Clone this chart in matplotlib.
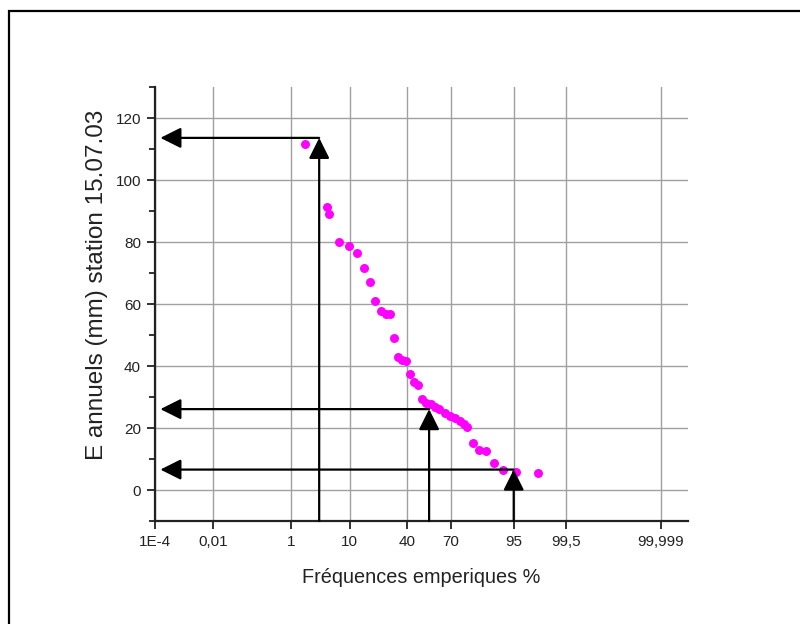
import numpy as np
import matplotlib
matplotlib.use('Agg')
import matplotlib.pyplot as plt
from matplotlib.patches import Rectangle
from matplotlib.ticker import MultipleLocator
from statistics import NormalDist

plt.rcParams['font.family'] = ['Liberation Sans', 'DejaVu Sans']

# Empirical frequencies (%) and annual values (mm).
freq = [1.89, 4.54, 5.01, 7.13, 9.78, 12.47, 15.2, 17.9, 20.4, 23.3, 26.1, 28.6,
        31.1, 33.6, 36.5, 39.2, 41.7, 44.5, 47.6, 50.0, 53.5, 56.4, 59.3, 62.3,
        66.1, 69.2, 72.3, 75.2, 77.5, 79.3, 82.1, 84.7, 87.4, 90.1, 92.7, 95.4, 98.1]
values = [111.5, 91.2, 89.0, 79.9, 78.6, 76.4, 71.5, 67.2, 61.1, 57.6, 56.7, 56.8,
          49.1, 42.9, 41.8, 41.6, 37.3, 34.8, 34.0, 29.5, 28.1, 27.7, 26.8, 26.0,
          24.9, 23.8, 23.1, 22.2, 21.2, 20.4, 15.2, 12.9, 12.6, 8.6, 6.6, 5.9, 5.6]

# Reading arrows (frequency %, value mm).
read_freq = [3.4, 55.4, 95.0]
read_vals = [113.6, 26.1, 6.6]
arrow_end_freq = 1.6e-4

xticks = [1e-4, 0.01, 1, 10, 40, 70, 95, 99.5, 99.999]
xtick_labels = ['1E-4', '0,01', '1', '10', '40', '70', '95', '99,5', '99,999']

_nd = NormalDist()
_inv = np.frompyfunc(lambda p: _nd.inv_cdf(p), 1, 1)
_cdf = np.frompyfunc(lambda z: _nd.cdf(z), 1, 1)


def probit(p):
    p = np.clip(np.asarray(p, dtype=float) / 100.0, 1e-12, 1 - 1e-12)
    return _inv(p).astype(float)


def unprobit(z):
    return _cdf(np.asarray(z, dtype=float)).astype(float) * 100.0


fig = plt.figure(figsize=(8, 6.24), dpi=100)
ax = fig.add_axes([0.19375, 0.165, 0.66625, 0.6955])
ax.set_xscale('function', functions=(probit, unprobit))
ax.set_xlim(1e-4, 99.9999)
ax.set_ylim(-10, 130)

ax.grid(True, color='#a0a0a0', lw=1.0)
ax.set_axisbelow(True)

ax.set_xticks(xticks)
ax.set_xticklabels(xtick_labels)
ax.xaxis.set_minor_locator(plt.NullLocator())
ax.yaxis.set_major_locator(MultipleLocator(20))
ax.yaxis.set_minor_locator(MultipleLocator(10))
ax.tick_params(axis='both', which='major', direction='out', length=6, width=1.3,
               pad=4, labelsize=11, colors='#222222')
ax.tick_params(axis='y', which='minor', direction='out', length=4, width=1.3,
               colors='#222222')

for side in ['top', 'right']:
    ax.spines[side].set_visible(False)
for side in ['left', 'bottom']:
    ax.spines[side].set_linewidth(1.6)
    ax.spines[side].set_color('#222222')

ax.scatter(freq, values, s=42, color='#ff00ff', zorder=3, linewidths=0)

arrow_style = dict(arrowstyle='-|>,head_length=0.9,head_width=0.45', color='black',
                   lw=1.6, shrinkA=0, shrinkB=0, mutation_scale=14)
for f, v in zip(read_freq, read_vals):
    ax.annotate('', xy=(f, v), xytext=(f, -10), arrowprops=arrow_style,
                annotation_clip=False, zorder=4)
    ax.annotate('', xy=(arrow_end_freq, v), xytext=(f, v), arrowprops=arrow_style,
                annotation_clip=False, zorder=4)

ax.set_xlabel('Fréquences emperiques %', fontsize=14.3, labelpad=14, color='#222222')
ax.set_ylabel('E annuels (mm) station 15.07.03', fontsize=17.5, color='#222222')
ax.yaxis.set_label_coords(-0.088, 0.544)

fig.patches.append(Rectangle((8.5 / 800, -0.2), 1.2, 0.2 + 1 - 10.5 / 624,
                             transform=fig.transFigure, fill=False, lw=1.6,
                             edgecolor='black'))

fig.savefig('out.png', dpi=100)
